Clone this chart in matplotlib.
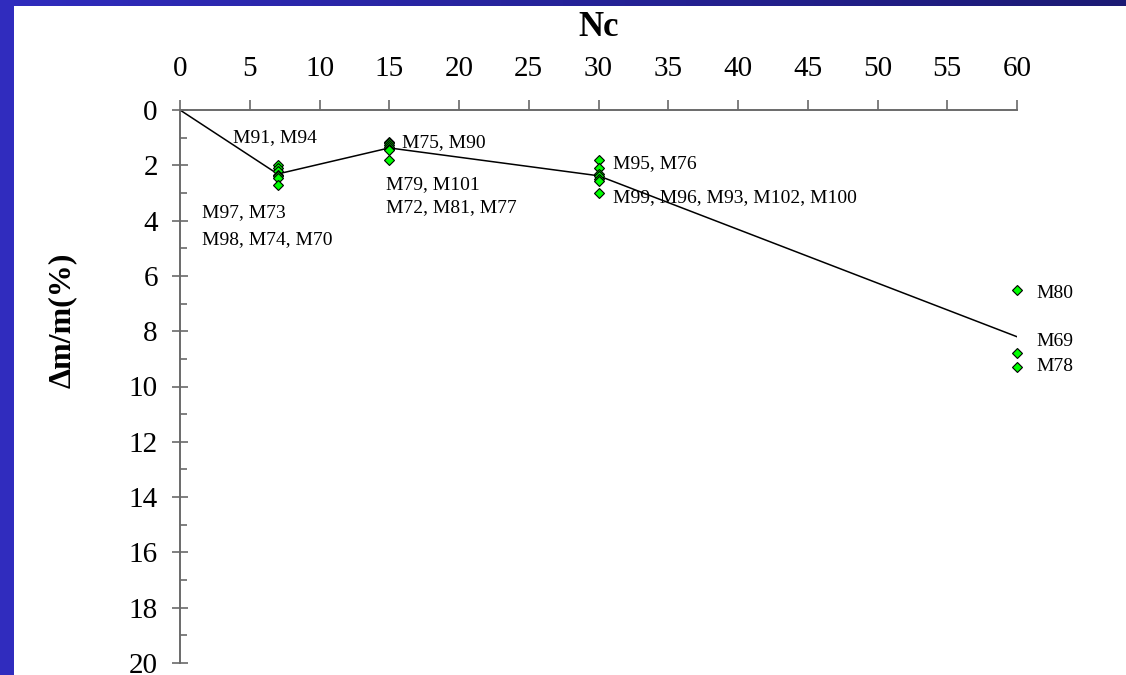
import numpy as np
import matplotlib
matplotlib.use("Agg")
import matplotlib.pyplot as plt
from matplotlib.patches import Rectangle
from matplotlib.ticker import MultipleLocator

nc_groups = [7, 15, 30, 60]
dm_7 = [2.0, 2.1, 2.2, 2.35, 2.4, 2.45, 2.7]
dm_15 = [1.15, 1.2, 1.25, 1.35, 1.4, 1.45, 1.8]
dm_30 = [1.8, 2.1, 2.3, 2.4, 2.5, 2.55, 3.0]
dm_60 = [6.5, 8.8, 9.3]
groups = [dm_7, dm_15, dm_30, dm_60]

x_ticks = list(range(0, 61, 5))
y_ticks = list(range(0, 21, 2))

# sample labels and where they sit (data coords)
labels = ["M91, M94", "M97, M73", "M98, M74, M70", "M75, M90", "M79, M101",
          "M72, M81, M77", "M95, M76", "M99, M96, M93, M102, M100",
          "M80", "M69", "M78"]
label_pos = [(3.8, 0.98), (1.58, 3.72), (1.58, 4.67), (15.9, 1.18), (14.77, 2.68),
             (14.77, 3.54), (31.04, 1.95), (31.04, 3.18),
             (61.36, 6.62), (61.36, 8.39), (61.36, 9.29)]

W, H = 1126, 675
plt.rcParams["font.family"] = ["Liberation Serif", "DejaVu Serif"]

fig = plt.figure(figsize=(W / 100, H / 100), dpi=100)
fig.patch.set_facecolor("white")

# blue slide frame: left strip solid, top strip with a gradient
fig.patches.append(Rectangle((0, 0), 14 / W, 1, transform=fig.transFigure,
                             facecolor="#302cbe", edgecolor="none", zorder=0))
top = fig.add_axes([0, 1 - 6 / H, 1, 6 / H])
grad = np.linspace(0, 1, 256)[None, :]
cmap = matplotlib.colors.LinearSegmentedColormap.from_list("frame", ["#302cbe", "#1c1a74"])
top.imshow(grad, aspect="auto", cmap=cmap, extent=[0, 1, 0, 1])
top.axis("off")

x0, x1 = 180, 1017
y0, y1 = 110, 663
ax = fig.add_axes([x0 / W, 1 - y1 / H, (x1 - x0) / W, (y1 - y0) / H])
ax.set_facecolor("none")

means = [0] + [np.mean(g) for g in groups]
ax.plot([0] + nc_groups, means, color="black", lw=1.1, zorder=2)
for nc, vals in zip(nc_groups, groups):
    ax.plot([nc] * len(vals), vals, linestyle="none", marker="D", ms=5,
            mfc="#00ff00", mec="black", mew=0.8, zorder=3, clip_on=False)

for txt, (lx, ly) in zip(labels, label_pos):
    ax.text(lx, ly, txt, fontsize=14, ha="left", va="center", clip_on=False)

ax.set_xlim(0, 60)
ax.set_ylim(20, 0)
ax.xaxis.tick_top()
ax.xaxis.set_label_position("top")
ax.set_xticks(x_ticks)
ax.set_yticks(y_ticks)
ax.yaxis.set_minor_locator(MultipleLocator(1))

axis_col = "#6a6a6a"
for side in ["right", "bottom"]:
    ax.spines[side].set_visible(False)
for side in ["left", "top"]:
    ax.spines[side].set_color(axis_col)
    ax.spines[side].set_linewidth(1.4)

ax.tick_params(axis="x", which="major", direction="out", length=7.2, width=1.2,
               color=axis_col, labelsize=21, pad=13)
ax.tick_params(axis="y", which="major", direction="inout", length=12, width=1.2,
               color=axis_col, labelsize=21, pad=10)
ax.tick_params(axis="y", which="minor", direction="in", length=5, width=1.2,
               color=axis_col)

fig.text(599 / W, 1 - 28 / H, "Nc", fontsize=25, fontweight="bold",
         ha="center", va="center")
fig.text(62 / W, 1 - 320 / H, "Δm/m(%)", fontsize=23, fontweight="bold",
         rotation=90, ha="center", va="center")

fig.savefig("out.png", dpi=100)
